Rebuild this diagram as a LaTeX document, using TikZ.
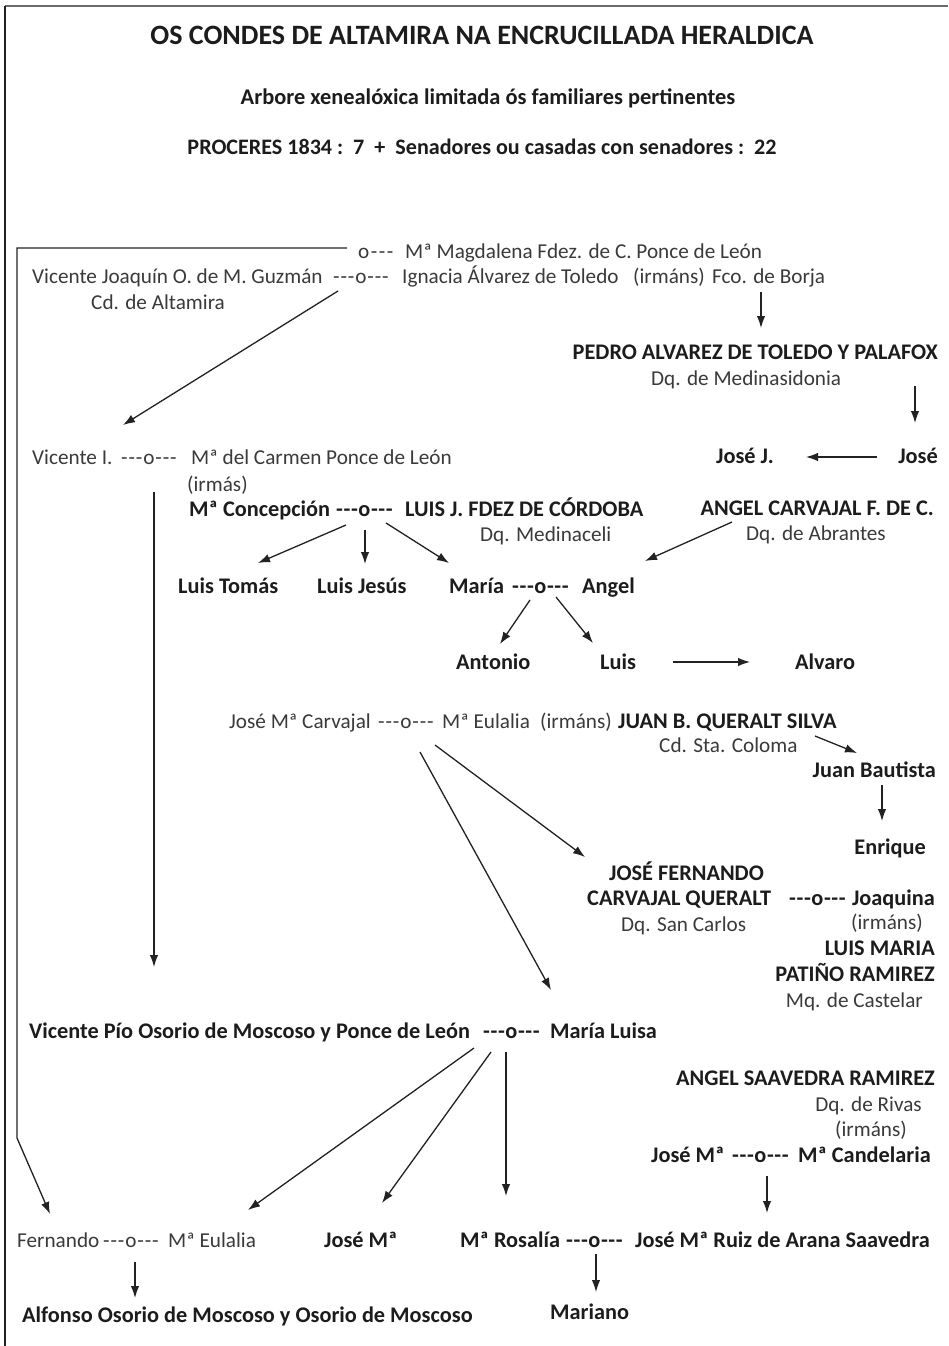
\documentclass[tikz,border=0pt]{standalone}
\usepackage{fontspec}
\setmainfont{Carlito}[Ligatures=TeXOff]
\usetikzlibrary{arrows.meta}
\definecolor{nmtext}{HTML}{3A3A3A}
\definecolor{bdtext}{HTML}{1C1C1C}
\definecolor{ink}{HTML}{222222}
\newcommand\mknm{-\kern0.9pt-\kern0.9pt-\kern0.9pt o\kern0.9pt-\kern0.9pt-\kern0.9pt-}
\newcommand\mkbd{-\kern0.6pt-\kern0.6pt-\kern0.6pt o\kern0.6pt-\kern0.6pt-\kern0.6pt-}
\newcommand\mkhalf{o\kern1.5pt-\kern1.5pt-\kern1.5pt-}
\tikzset{
  nm/.style={anchor=base west,inner sep=0pt,text=nmtext,font=\fontsize{21.2}{24}\selectfont},
  bd/.style={anchor=base west,inner sep=0pt,text=bdtext,font=\fontsize{22.3}{25}\selectfont\bfseries},
  nmr/.style={nm,anchor=base east},
  bdr/.style={bd,anchor=base east},
  ttl/.style={anchor=base,inner sep=0pt,text=bdtext,font=\fontsize{28}{30}\selectfont\bfseries},
  sub/.style={anchor=base,inner sep=0pt,text=bdtext,font=\fontsize{22.4}{25}\selectfont\bfseries},
  arr/.style={draw=ink,line width=1.3pt,-{Latex[length=12pt,width=8.5pt]}}
}
\begin{document}
\begin{tikzpicture}[x=1pt,y=-1pt]
\useasboundingbox (0,0) rectangle (948,1346);
\fill[white] (0,0) rectangle (948,1346);
% frame
\draw[draw=gray!85!black,line width=2.2pt] (5,6) -- (948,6);
\draw[draw=ink,line width=2pt] (5,6) -- (5,1346);

% titles
\node[ttl] (title) at (482,45) {OS CONDES DE ALTAMIRA NA ENCRUCILLADA HERALDICA};
\node[sub] (subtitle) at (488,104) {Arbore xenealóxica limitada ós familiares pertinentes};
\node[font=\fontsize{22.1}{25}\selectfont\bfseries,anchor=base,inner sep=0pt,text=bdtext] (counts) at (482,154) {PROCERES 1834 :\ \ 7\ \ +\ \ Senadores ou casadas con senadores :\ \ 22};

% row A/B/C
\node[nm] (o1) at (358,258) {\mkhalf};
\node[nm] (mag) at (405,258) {Mª Magdalena Fdez. de C. Ponce de León};
\node[nm] (vj) at (32,283) {Vicente Joaquín O. de M. Guzmán};
\node[nm] (m1) at (333,283) {\mknm};
\node[nm] (ign) at (402,283) {Ignacia Álvarez de Toledo};
\node[nm] (irm1) at (633,283) {(irmáns)};
\node[nm] (borja) at (712,283) {Fco. de Borja};
\node[nm] (alt) at (91,309) {Cd. de Altamira};

\node[bdr] (pedro) at (938,359) {PEDRO ALVAREZ DE TOLEDO Y PALAFOX};
\node[nm] (medina) at (651,385) {Dq. de Medinasidonia};
\node[bd] (josej) at (716,463) {José J.};
\node[bdr] (jose) at (938,463) {José};

\node[nm] (v1) at (32,464) {Vicente I.};
\node[nm] (m2) at (121,464) {\mknm};
\node[nm] (carmen) at (191,464) {Mª del Carmen Ponce de León};
\node[nm] (irmas) at (187,491) {(irmás)};

\node[bd] (conc) at (189,516) {Mª Concepción};
\node[bd] (m3) at (336,516) {\mkbd};
\node[bd] (luisj) at (405,516) {LUIS J. FDEZ DE CÓRDOBA};
\node[bdr] (angelc) at (934,515) {ANGEL CARVAJAL F. DE C.};
\node[nm] (medinaceli) at (480,541) {Dq. Medinaceli};
\node[nm] (abrantes) at (746,540) {Dq. de Abrantes};

\node[bd] (ltomas) at (178,593) {Luis Tomás};
\node[bd] (ljesus) at (317,593) {Luis Jesús};
\node[bd] (maria) at (449,593) {María};
\node[bd] (m4) at (512,593) {\mkbd};
\node[bd] (angel) at (582,593) {Angel};

\node[bd] (antonio) at (456,669) {Antonio};
\node[bd] (luis) at (600,669) {Luis};
\node[bd] (alvaro) at (795,669) {Alvaro};

\node[nm] (jmc) at (229,728) {José Mª Carvajal};
\node[nm] (m5) at (378,728) {\mknm};
\node[nm] (eulalia1) at (442,728) {Mª Eulalia};
\node[nm] (irm2) at (540,728) {(irmáns)};
\node[bd] (juanb) at (618,728) {JUAN B. QUERALT SILVA};
\node[nm] (coloma) at (659,752) {Cd. Sta. Coloma};
\node[bdr] (jbautista) at (936,777) {Juan Bautista};
\node[bdr] (enrique) at (926,854) {Enrique};

\node[bd] (jfern) at (609,880) {JOSÉ FERNANDO};
\node[bd] (cq) at (587,905) {CARVAJAL QUERALT};
\node[bd] (m6) at (789,905) {\mkbd};
\node[bdr] (joaq) at (935,905) {Joaquina};
\node[nm] (sancarlos) at (621,931) {Dq. San Carlos};
\node[nmr] (irm3) at (923,929) {(irmáns)};
\node[bdr] (luism) at (935,955) {LUIS MARIA};
\node[bdr] (patino) at (935,981) {PATIÑO RAMIREZ};
\node[nmr] (castelar) at (923,1007) {Mq. de Castelar};

\node[bd] (vpio) at (29,1038) {Vicente Pío Osorio de Moscoso y Ponce de León};
\node[bd] (m7) at (483,1038) {\mkbd};
\node[bd] (mluisa) at (550,1038) {María Luisa};

\node[bdr] (angels) at (935,1085) {ANGEL SAAVEDRA RAMIREZ};
\node[nmr] (rivas) at (922,1111) {Dq. de Rivas};
\node[nmr] (irm4) at (907,1136) {(irmáns)};
\node[bd] (josem1) at (651,1162) {José Mª};
\node[bd] (m8) at (732,1162) {\mkbd};
\node[bdr] (candelaria) at (931,1162) {Mª Candelaria};

\node[nm] (fern) at (17,1247) {Fernando};
\node[nm] (m9) at (103,1247) {\mknm};
\node[nm] (eulalia2) at (168,1247) {Mª Eulalia};
\node[bd] (josem2) at (324,1247) {José Mª};
\node[bd] (rosalia) at (460,1247) {Mª Rosalía};
\node[bd] (m10) at (566,1247) {\mkbd};
\node[bdr] (ruiz) at (930,1247) {José Mª Ruiz de Arana Saavedra};

\node[bd] (alfonso) at (22,1322) {Alfonso Osorio de Moscoso y Osorio de Moscoso};
\node[bd] (mariano) at (550,1319) {Mariano};

% connector coordinates
\coordinate (b0) at (347,248);
\coordinate (b1) at (17,248);
\coordinate (b2) at (17,1138);
\coordinate (b3) at (50,1214);
\coordinate (s1) at (338,291);   \coordinate (e1) at (123,425);
\coordinate (s2) at (761,292);   \coordinate (e2) at (761,328);
\coordinate (s3) at (915,386);   \coordinate (e3) at (915,423);
\coordinate (s4) at (877,457);   \coordinate (e4) at (806,457);
\coordinate (s5) at (154,492);   \coordinate (e5) at (154,967);
\coordinate (s6) at (346,525);   \coordinate (e6) at (258,563);
\coordinate (s7) at (365,530);   \coordinate (e7) at (365,564);
\coordinate (s8) at (386,523);   \coordinate (e8) at (449,563);
\coordinate (s9) at (732,522);   \coordinate (e9) at (645,561);
\coordinate (s10) at (530,600);  \coordinate (e10) at (500,644);
\coordinate (s11) at (556,597);  \coordinate (e11) at (593,643);
\coordinate (s12) at (673,662);  \coordinate (e12) at (750,662);
\coordinate (s13) at (815,736);  \coordinate (e13) at (857,753);
\coordinate (s14) at (882,785);  \coordinate (e14) at (882,821);
\coordinate (s15) at (435,745);  \coordinate (e15) at (585,857);
\coordinate (s16) at (420,752);  \coordinate (e16) at (551,990);
\coordinate (s17) at (474,1048); \coordinate (e17) at (248,1210);
\coordinate (s18) at (491,1052); \coordinate (e18) at (382,1203);
\coordinate (s19) at (506,1052); \coordinate (e19) at (506,1196);
\coordinate (s20) at (767,1176); \coordinate (e20) at (767,1213);
\coordinate (s21) at (135,1262); \coordinate (e21) at (135,1298);
\coordinate (s22) at (596,1254); \coordinate (e22) at (596,1292);

\draw[arr] (b0) -- (b1) -- (b2) -- (b3);
\foreach \i in {1,...,22} { \draw[arr] (s\i) -- (e\i); }
\end{tikzpicture}
\end{document}
